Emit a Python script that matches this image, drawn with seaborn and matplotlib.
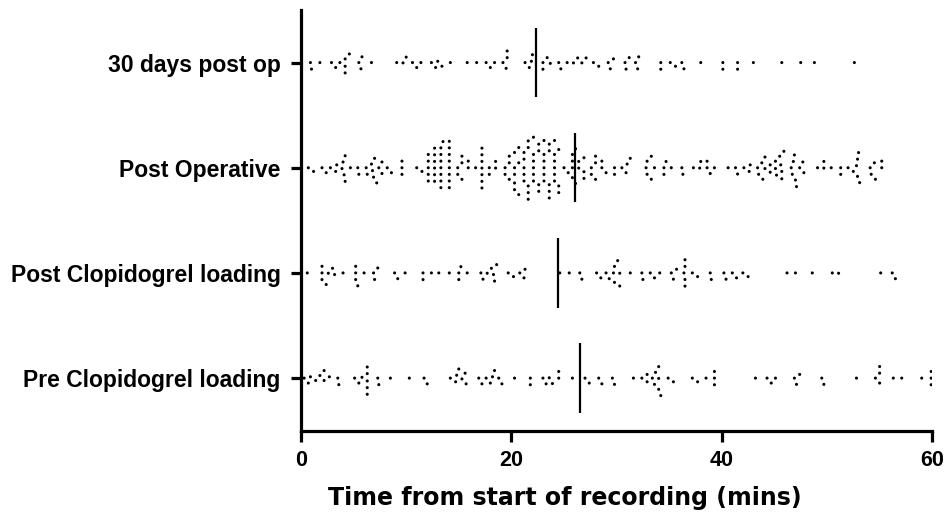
import numpy as np
import pandas as pd
import matplotlib
matplotlib.use("Agg")
import matplotlib.pyplot as plt
import seaborn as sns

categories = ["30 days post op", "Post Operative", "Post Clopidogrel loading", "Pre Clopidogrel loading"]

days30_post_op = [
    0.9, 1.0, 1.8, 2.9, 3.3, 3.7, 4.2, 4.2, 4.2, 4.6, 5.5, 5.7, 5.8, 6.7,
    9.1, 9.7, 10.0, 10.6, 11.0, 11.4, 12.4, 12.8, 13.0, 13.4, 14.2,
    15.8, 16.7, 17.6, 18.0, 18.4, 19.2, 19.5, 19.6, 19.6,
    21.3, 21.7, 21.9, 22.0, 23.0, 23.0, 23.4, 23.7,
    24.5, 24.7, 25.3, 25.9, 26.3, 26.7, 27.1, 27.8, 28.3, 29.2, 29.4, 29.7,
    30.8, 30.9, 31.2, 31.8, 32.0, 32.1, 34.2, 34.2, 35.1, 35.6, 36.2, 36.4,
    38.0, 40.1, 40.1, 41.5, 41.5, 43.0, 45.7, 47.5, 48.8, 52.6,
]

post_operative = [
    6.8, 8.2, 1.2, 2.8, 3.9, 4.2, 5.5, 6.3, 7.0, 7.7, 9.6, 0.7, 2.4, 3.3, 4.1,
    4.7, 6.2, 6.9, 7.7, 8.6, 9.6, 2.0, 3.4, 4.2, 5.4, 6.7, 7.2, 9.6, 4.0, 7.4,
    11.0, 11.5, 12.1, 12.1, 12.1, 12.1, 12.1, 12.7, 12.7, 12.7, 12.7, 12.7, 12.7,
    13.3, 13.3, 13.3, 13.3, 13.3, 13.3, 13.3, 13.5,
    14.1, 14.1, 14.1, 14.1, 14.1, 14.1, 14.1, 14.1, 14.9, 14.9, 15.3, 15.3, 15.3, 15.9, 15.9,
    16.6, 17.2, 17.2, 17.2, 17.2, 17.2, 17.2, 17.2, 17.9, 17.9, 18.5, 18.5,
    19.4, 19.4, 19.8, 19.8, 19.8, 20.3, 20.3, 20.3, 20.3, 20.3, 20.7, 20.7, 20.7,
    21.2, 21.2, 21.2, 21.2, 21.2, 21.6, 21.6, 21.6, 21.6, 21.6,
    22.1, 22.1, 22.1, 22.1, 22.1, 22.1, 22.6, 22.6, 22.6, 22.6,
    23.1, 23.1, 23.1, 23.1, 23.1, 23.1, 23.6, 23.6, 23.6, 23.6, 23.6,
    24.1, 24.1, 24.1, 24.1, 24.1, 24.1, 24.5, 24.5, 24.5, 25.0, 25.4,
    25.8, 25.8, 25.8, 25.8, 26.1, 26.1, 26.4, 26.4, 26.9, 26.9, 26.9,
    27.6, 27.6, 28.0, 28.0, 28.0, 28.6, 28.6, 29.0, 29.8, 29.8,
    33.3, 39.3, 43.9, 45.5, 46.9, 45.7, 47.1, 53.1, 31.0, 32.9, 34.7, 36.3, 38.6,
    41.5, 42.7, 43.5, 44.6, 45.1, 46.7, 47.8, 49.7, 51.3, 52.9, 54.5, 55.2,
    30.5, 31.3, 32.8, 33.6, 34.5, 35.2, 37.3, 38.0, 38.6, 40.6, 41.3, 42.1, 43.4,
    44.1, 45.1, 45.9, 46.6, 47.4, 49.1, 50.4, 51.3, 52.0, 52.8, 54.1, 55.2,
    30.9, 32.9, 34.5, 36.2, 37.9, 38.9, 42.6, 43.8, 44.1, 45.2, 46.8, 47.7, 49.7,
    52.5, 52.9, 54.2, 33.3, 44.6, 45.6, 47.0, 53.0, 54.6, 45.7,
]

post_clopidogrel = [
    2.0, 2.6, 5.2, 7.3, 9.2, 11.6, 13.1, 15.0, 17.3, 18.4, 20.2, 21.3, 26.7, 29.3,
    0.6, 2.0, 2.4, 3.2, 4.0, 5.2, 6.0, 6.9, 8.9, 9.9, 11.6, 12.4, 14.1, 15.0,
    15.8, 17.1, 18.1, 19.7, 20.8, 24.6, 25.5, 26.5, 28.1, 29.0,
    2.0, 3.0, 5.2, 7.0, 15.2, 17.7, 18.3, 21.2, 28.5, 29.8, 5.4, 18.6, 29.8, 29.7,
    36.5, 30.3, 33.6, 35.4, 36.5, 37.7, 40.4, 42.5, 51.1, 56.5,
    30.1, 31.3, 32.4, 33.2, 34.1, 35.2, 36.4, 37.2, 38.9, 40.2, 41.0, 42.0,
    46.2, 47.0, 48.6, 50.5, 55.1, 56.2,
    30.3, 32.5, 35.7, 36.5, 39.0, 41.4, 36.5,
]

pre_clopidogrel = [
    0.3, 1.8, 2.7, 3.6, 6.3, 12.0, 14.7, 15.3, 17.2, 18.4, 23.3, 24.5,
    0.7, 1.4, 2.2, 3.5, 5.1, 5.8, 6.3, 7.3, 8.5, 10.3, 11.7, 14.2, 15.0, 15.7,
    16.9, 17.6, 18.2, 19.1, 20.3, 21.8, 23.0, 23.9, 25.8, 27.0, 28.3, 29.6,
    0.9, 2.2, 5.5, 6.3, 7.4, 14.8, 15.6, 18.0, 18.8, 21.8, 23.6, 24.5, 27.4, 28.6, 29.8,
    6.3, 6.3,
    34.0, 34.0, 55.0, 32.9, 33.6, 35.4, 39.3, 47.4, 49.7, 55.0, 59.9,
    31.6, 32.4, 33.4, 34.2, 34.9, 37.2, 38.5, 39.3, 43.2, 44.3, 45.1, 46.9,
    49.5, 52.8, 54.6, 56.3, 57.1, 59.0, 59.9,
    32.9, 33.7, 37.7, 39.3, 44.7, 47.1, 55.0, 59.9, 34.0,
]

mean_lines = [22.3, 26.0, 24.4, 26.5]
x_ticks = [0, 20, 40, 60]
x_label = "Time from start of recording (mins)"

series = [days30_post_op, post_operative, post_clopidogrel, pre_clopidogrel]
df = pd.DataFrame({
    "time": np.concatenate([np.asarray(s, dtype=float) for s in series]),
    "group": np.concatenate([[c] * len(s) for c, s in zip(categories, series)]),
})

sns.set_theme(style="white")
plt.rcParams["font.family"] = ["Liberation Sans", "DejaVu Sans"]
plt.rcParams["font.weight"] = "bold"
plt.rcParams["text.color"] = "black"
plt.rcParams["axes.labelcolor"] = "black"

fig = plt.figure(figsize=(9.47, 5.15), dpi=100)
ax = fig.add_axes([0.3178, 0.1637, 0.6666, 0.8169])

sns.swarmplot(data=df, x="time", y="group", order=categories, orient="h",
              color="black", size=2.2, linewidth=2.35, edgecolor="none", ax=ax)

for i, m in enumerate(mean_lines):
    ax.plot([m, m], [i - 0.33, i + 0.33], color="black", lw=1.6, zorder=6,
            solid_capstyle="butt")

ax.set_xlim(0, 60)
ax.set_ylim(3.5, -0.5)
ax.set_xticks(x_ticks)
ax.set_xticklabels([str(t) for t in x_ticks])
ax.set_ylabel("")
ax.set_xlabel(x_label, fontsize=17, fontweight="bold", color="black",
              family=["DejaVu Sans"])
ax.xaxis.set_label_coords(0.418, -0.132)

for side in ["top", "right"]:
    ax.spines[side].set_visible(False)
for side in ["left", "bottom"]:
    ax.spines[side].set_linewidth(2.3)
    ax.spines[side].set_color("black")

ax.tick_params(axis="x", direction="out", length=8, width=2.3, labelsize=15.5,
               pad=6, colors="black", bottom=True)
ax.tick_params(axis="y", direction="out", length=7, width=2.3, labelsize=16.5,
               pad=7.5, colors="black", left=True)
for lab in ax.get_xticklabels() + ax.get_yticklabels():
    lab.set_fontweight("bold")

fig.savefig("out.png", dpi=100, facecolor="white")
